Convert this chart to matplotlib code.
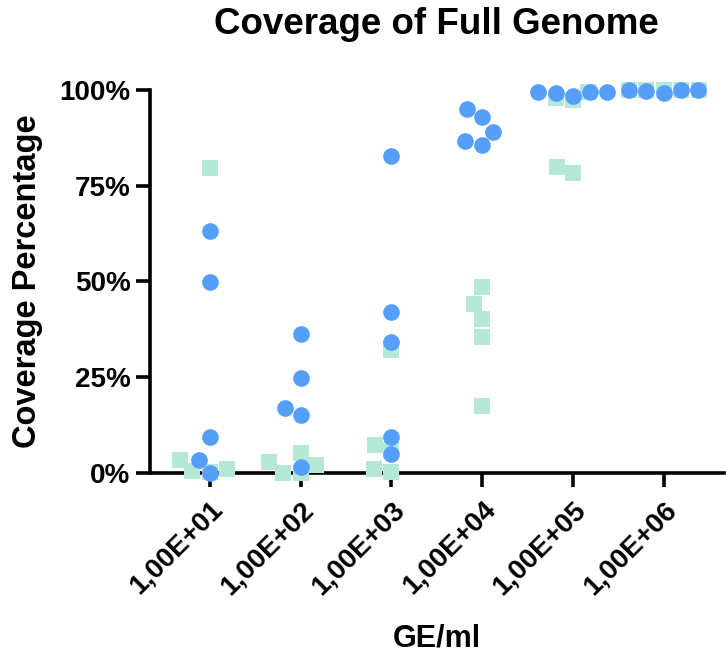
import numpy as np
import pandas as pd
import matplotlib
matplotlib.use("Agg")
import matplotlib.pyplot as plt
import seaborn as sns

# GE/ml dilution levels
categories = ["1,00E+01", "1,00E+02", "1,00E+03", "1,00E+04", "1,00E+05", "1,00E+06"]

# coverage % per replicate
circle_vals = [
    [63.3, 49.9, 9.5, 3.4, 0.0],
    [36.4, 24.8, 17.0, 15.1, 1.6],
    [82.8, 42.0, 34.1, 9.5, 5.0],
    [95.0, 92.9, 89.1, 86.6, 85.6],
    [98.4, 99.5, 99.5, 99.5, 99.3],
    [99.3, 99.8, 99.9, 100.0, 100.0],
]
square_vals = [
    [79.6, 3.5, 0.5, 0.3, 1.0],
    [0.0, 2.8, 2.2, 5.2, 0.1],
    [32.1, 7.2, 0.2, 6.0, 1.1],
    [48.6, 44.0, 40.2, 35.4, 17.6],
    [99.5, 97.5, 98.0, 80.0, 78.3],
    [100.0, 100.0, 100.0, 100.0, 100.0],
]

circle_color = "#559FFA"
square_color = "#B5E8D5"


def to_long(vals):
    rows = []
    for cat, vs in zip(categories, vals):
        for v in vs:
            rows.append((cat, v))
    return pd.DataFrame(rows, columns=["ge", "cov"])


df_circ = to_long(circle_vals)
df_sq = to_long(square_vals)

plt.rcParams["font.family"] = ["Liberation Sans", "DejaVu Sans"]
plt.rcParams["font.weight"] = "bold"

fig = plt.figure(figsize=(7.26, 6.55), dpi=100)
ax = fig.add_axes([0.2066, 0.2779, 0.79, 0.5847])

sns.swarmplot(data=df_sq, x="ge", y="cov", order=categories, ax=ax,
              marker="s", size=12, color=square_color, linewidth=0,
              clip_on=False, zorder=3)
sns.swarmplot(data=df_circ, x="ge", y="cov", order=categories, ax=ax,
              marker="o", size=12, color=circle_color, linewidth=0,
              clip_on=False, zorder=4)

ax.set_xlim(-0.66, 5.66)
ax.set_ylim(0, 100)
ax.set_yticks([0, 25, 50, 75, 100])
ax.set_yticklabels(["0%", "25%", "50%", "75%", "100%"])
ax.set_xticks(range(len(categories)))
ax.set_xticklabels(categories, rotation=45, ha="right", rotation_mode="anchor")

for s in ["top", "right"]:
    ax.spines[s].set_visible(False)
ax.spines["left"].set_linewidth(2.6)
ax.spines["bottom"].set_linewidth(2.6)
ax.spines["left"].set_bounds(0, 100)

ax.tick_params(axis="both", length=10, width=2.6, labelsize=20)
ax.tick_params(axis="y", pad=4)
ax.tick_params(axis="x", pad=7)

ax.set_xlabel("GE/ml", fontsize=22, fontweight="bold", labelpad=17)
ax.set_ylabel("Coverage Percentage", fontsize=23.5, fontweight="bold", labelpad=12)
ax.set_title("Coverage of Full Genome", fontsize=26.5, fontweight="bold", pad=40)

fig.savefig("out.png", dpi=100)
